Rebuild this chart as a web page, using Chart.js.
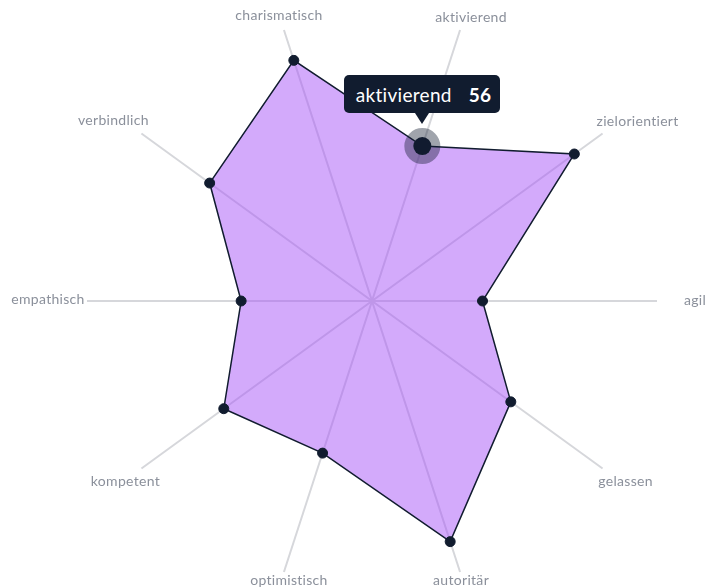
<!DOCTYPE html>
<html><head><meta charset="utf-8">
<script src="https://cdn.jsdelivr.net/npm/chart.js@4.4.1/dist/chart.umd.min.js"></script>
<style>
html,body{margin:0;padding:0;background:#fff;}
#wrap{position:relative;width:707px;height:588px;overflow:hidden;}
#tip{position:absolute;display:flex;align-items:center;box-sizing:border-box;height:38px;padding:0 9px 0 12px;
  background:#111c2f;color:#fff;border-radius:5px;font-family:Lato,sans-serif;font-size:19px;letter-spacing:0.3px;white-space:nowrap;}
#tip .v{font-weight:700;margin-left:17px;}
#tip:after{content:"";position:absolute;left:50%;bottom:-11px;margin-left:-7px;border-left:7px solid transparent;border-right:7px solid transparent;border-top:11px solid #111c2f;}
</style></head><body>
<div id="wrap"><canvas id="c" width="707" height="588"></canvas><div id="tip"><span class="k"></span><span class="v"></span></div></div>
<script>
const categories = ['agil','gelassen','autoritär','optimistisch','kompetent','empathisch','verbindlich','charismatisch','aktivierend','zielorientiert'];
const values = [38, 59, 87, 55, 63, 45, 69, 87, 56, 86];
const scaleMin = 0;
const scaleMax = 98;
const activeIndex = 8;

// label placement relative to each spoke end (styling, not data)
const labelNudges = [[38,-1],[23,13],[1,8],[5,8],[-16,13],[-39,-2],[-28,-13],[-5,-14],[11,-12],[35,-12]];
const labelPlugin = {
  id: 'customPointLabels',
  afterDraw(chart) {
    const s = chart.scales.r, ctx = chart.ctx;
    ctx.save();
    ctx.font = '14px Lato, sans-serif';
    if ('letterSpacing' in ctx) ctx.letterSpacing = '0.3px';
    ctx.fillStyle = '#8b909b';
    ctx.textAlign = 'center';
    ctx.textBaseline = 'middle';
    chart.data.labels.forEach((t, i) => {
      const p = s.getPointPosition(i, s.drawingArea);
      ctx.fillText(t, p.x + labelNudges[i][0], p.y + labelNudges[i][1]);
    });
    ctx.restore();
  }
};

const chart = new Chart(document.getElementById('c'), {
  type: 'radar',
  data: {
    labels: categories,
    datasets: [{
      data: values,
      fill: 'origin',
      backgroundColor: 'rgba(168,85,247,0.5)',
      borderColor: '#111c2f',
      borderWidth: 1.5,
      pointRadius: 5,
      pointBackgroundColor: '#111c2f',
      pointBorderColor: '#111c2f',
      pointBorderWidth: 1,
      pointHoverRadius: 9,
      pointHoverBorderWidth: 18,
      pointHoverBorderColor: 'rgba(17,28,47,0.4)',
      pointHoverBackgroundColor: '#111c2f'
    }]
  },
  options: {
    responsive: false,
    animation: false,
    events: [],
    devicePixelRatio: 1,
    layout: { padding: { left: 87, right: 50, top: 16, bottom: 2 } },
    plugins: { legend: { display: false }, tooltip: { enabled: false } },
    scales: {
      r: {
        min: scaleMin, max: scaleMax,
        startAngle: 90,
        ticks: { display: false },
        grid: { display: false },
        angleLines: { display: true, color: '#d6d7db', lineWidth: 2 },
        pointLabels: { display: false }
      }
    }
  },
  plugins: [labelPlugin]
});

chart.setActiveElements([{ datasetIndex: 0, index: activeIndex }]);
chart.update('none');
const el = chart.getDatasetMeta(0).data[activeIndex];
const tip = document.getElementById('tip');
tip.querySelector('.k').textContent = categories[activeIndex];
tip.querySelector('.v').textContent = values[activeIndex];
const w = tip.offsetWidth;
tip.style.left = (el.x - w / 2) + 'px';
tip.style.top = (el.y - 22 - 11 - 38) + 'px';
</script>
</body></html>
